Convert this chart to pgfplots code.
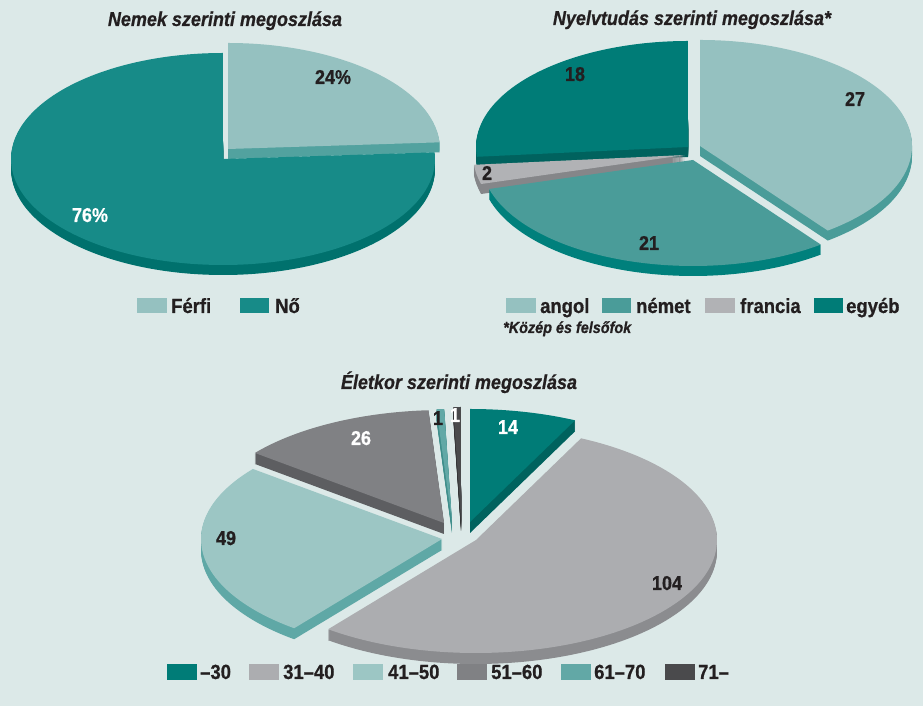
\documentclass[border=0pt]{standalone}
\usepackage{pgfplots}
\pgfplotsset{compat=1.18}
\usepackage{fontspec}
\setmainfont{Liberation Sans}[FakeStretch=0.9,BoldFeatures={FakeBold=0.7},BoldItalicFeatures={FakeBold=0.7}]

\definecolor{bg}{HTML}{DCE9E8}
\definecolor{txt}{HTML}{231F20}
\definecolor{lteal}{HTML}{95C1C0}
\definecolor{lteals}{HTML}{52A29F}
\definecolor{nteal}{HTML}{178B88}
\definecolor{nteals}{HTML}{00716D}
\definecolor{mteal}{HTML}{4A9C99}
\definecolor{mteals}{HTML}{00807C}
\definecolor{dteal}{HTML}{007C77}
\definecolor{dteals}{HTML}{00625E}
\definecolor{lgrey}{HTML}{ACADB0}
\definecolor{lgreys}{HTML}{8B8C8F}
\definecolor{fgrey}{HTML}{B1B2B5}
\definecolor{fgreys}{HTML}{858689}
\definecolor{age3}{HTML}{9CC6C4}
\definecolor{age3s}{HTML}{5FA8A6}
\definecolor{mgrey}{HTML}{808184}
\definecolor{mgreys}{HTML}{5D5E61}
\definecolor{age5}{HTML}{62A8A6}
\definecolor{age5s}{HTML}{3F8E8B}
\definecolor{dgrey}{HTML}{4A4A4C}
\definecolor{dgreys}{HTML}{333335}

% ---- data ----
% Nemek (percent)
\def\vFerfi{24}\def\vNo{76}
% Nyelvtudas
\def\vAngol{27}\def\vNemet{21}\def\vFrancia{2}\def\vEgyeb{18}
% Eletkor
\def\vA{14}\def\vB{104}\def\vC{49}\def\vD{26}\def\vE{1}\def\vF{1}

% cumulative angles (clockwise from 90 degrees)
\pgfmathsetmacro\gT{\vFerfi+\vNo}
\pgfmathsetmacro\gA{90-\vFerfi/\gT*360}
\pgfmathsetmacro\gB{\gA-\vNo/\gT*360}

\pgfmathsetmacro\lT{\vAngol+\vNemet+\vFrancia+\vEgyeb}
\pgfmathsetmacro\lA{90-\vAngol/\lT*360}
\pgfmathsetmacro\lB{\lA-\vNemet/\lT*360}
\pgfmathsetmacro\lC{\lB-\vFrancia/\lT*360}
\pgfmathsetmacro\lD{\lC-\vEgyeb/\lT*360}

\pgfmathsetmacro\aT{\vA+\vB+\vC+\vD+\vE+\vF}
\pgfmathsetmacro\aA{90-\vA/\aT*360}
\pgfmathsetmacro\aB{\aA-\vB/\aT*360}
\pgfmathsetmacro\aC{\aB-\vC/\aT*360}
\pgfmathsetmacro\aD{\aC-\vD/\aT*360}
\pgfmathsetmacro\aE{\aD-\vE/\aT*360}
\pgfmathsetmacro\aF{\aE-\vF/\aT*360}

% slice: cx, cy (image px, y down), rx, ry, depth, angle low, angle high, top colour, side colour
\newcommand{\slice}[9]{%
  \pgfplotsinvokeforeach{1,...,#5}{%
    \fill[#9] (axis cs:#1,{706-#2-##1}) -- ++(#6:#3pt and #4pt)
      arc[start angle=#6,end angle=#7,x radius=#3pt,y radius=#4pt] -- cycle;
  }%
  \fill[#8] (axis cs:#1,{706-#2}) -- ++(#6:#3pt and #4pt)
      arc[start angle=#6,end angle=#7,x radius=#3pt,y radius=#4pt] -- cycle;
}
% legend box: x1, x2, ytop, height, colour
\newcommand{\lgbox}[5]{%
  \fill[#5] (axis cs:#1,{706-#3}) rectangle (axis cs:#2,{706-#3-#4});
}

\begin{document}
\begin{tikzpicture}
\begin{axis}[width=923pt,height=706pt,scale only axis,
  xmin=0,xmax=923,ymin=0,ymax=706,hide axis,clip=false]
\fill[bg] (axis cs:0,0) rectangle (axis cs:923,706);

% ===== Nemek =====
\slice{228}{149}{212}{106}{10}{\gA}{90}{lteal}{lteals}
\slice{223}{159}{212}{106}{10}{\gB}{\gA}{nteal}{nteals}

% ===== Nyelvtudas =====
\slice{688}{147}{212}{106}{10}{\lD}{\lC}{dteal}{dteals}
\slice{700}{146}{212}{106}{10}{\lA}{90}{lteal}{mteal}
\slice{685}{155}{212}{106}{10}{\lC}{\lB}{fgrey}{fgreys}
\slice{693}{160}{212}{106}{10}{\lB}{\lA}{mteal}{mteals}

% ===== Eletkor =====
\slice{444}{523}{241}{113}{11}{\aD}{\aC}{mgrey}{mgreys}
\slice{452}{522}{241}{113}{11}{\aE}{\aD}{age5}{age5s}
\slice{461}{520}{241}{113}{11}{\aF}{\aE}{dgrey}{dgreys}
\slice{470}{522}{241}{113}{11}{\aA}{90}{dteal}{dteals}
\slice{442}{539}{241}{113}{11}{\aC}{\aB}{age3}{age3s}
\slice{476}{540}{241}{113}{11}{\aB}{\aA}{lgrey}{lgreys}

% ===== titles =====
\begin{scope}[every node/.style={font=\bfseries\itshape\fontsize{20}{24}\selectfont,text=txt,anchor=base,inner sep=0pt}]
\node at (axis cs:225,{706-26}) {Nemek szerinti megoszlása};
\node at (axis cs:692,{706-25}) {Nyelvtudás szerinti megoszlása*};
\node at (axis cs:459,{706-389}) {Életkor szerinti megoszlása};
\end{scope}

% ===== value labels =====
\begin{scope}[every node/.style={font=\bfseries\fontsize{20}{24}\selectfont,anchor=base,inner sep=0pt}]
\node[text=txt] at (axis cs:333,{706-84}) {24\%};
\node[text=white] at (axis cs:90,{706-222}) {76\%};
\node[text=txt] at (axis cs:855,{706-106}) {27};
\node[text=txt] at (axis cs:649,{706-250}) {21};
\node[text=txt] at (axis cs:487,{706-180}) {2};
\node[text=txt] at (axis cs:575,{706-81}) {18};
\node[text=white] at (axis cs:508,{706-434}) {14};
\node[text=txt] at (axis cs:667,{706-590}) {104};
\node[text=txt] at (axis cs:226,{706-545}) {49};
\node[text=white] at (axis cs:361,{706-445}) {26};
\node[text=txt] at (axis cs:438,{706-425}) {1};
\node[text=white] at (axis cs:455,{706-422}) {1};
\end{scope}

% ===== legends =====
\lgbox{137}{167}{298}{15}{lteal}
\lgbox{240}{269}{298}{15}{nteal}
\lgbox{506}{536}{298}{15}{lteal}
\lgbox{602}{631}{298}{15}{mteal}
\lgbox{705}{735}{298}{15}{fgrey}
\lgbox{814}{843}{298}{15}{dteal}
\lgbox{167}{197}{664}{16}{dteal}
\lgbox{249}{279}{664}{16}{lgrey}
\lgbox{353}{383}{664}{16}{age3}
\lgbox{457}{487}{664}{16}{mgrey}
\lgbox{561}{591}{664}{16}{age5}
\lgbox{665}{695}{664}{16}{dgrey}
\begin{scope}[every node/.style={font=\bfseries\fontsize{20.5}{24}\selectfont,text=txt,anchor=base west,inner sep=0pt}]
\node at (axis cs:171,{706-313}) {Férfi};
\node at (axis cs:275,{706-313}) {Nő};
\node at (axis cs:540,{706-313}) {angol};
\node at (axis cs:636,{706-313}) {német};
\node at (axis cs:740,{706-313}) {francia};
\node at (axis cs:846,{706-313}) {egyéb};
\node at (axis cs:200,{706-679}) {–30};
\node at (axis cs:283,{706-679}) {31–40};
\node at (axis cs:388,{706-679}) {41–50};
\node at (axis cs:491,{706-679}) {51–60};
\node at (axis cs:594,{706-679}) {61–70};
\node at (axis cs:698,{706-679}) {71–};
\end{scope}
\node[font=\bfseries\itshape\fontsize{16}{19}\selectfont,text=txt,anchor=base west,inner sep=0pt] at (axis cs:503,{706-333}) {*Közép és felsőfok};
\end{axis}
\pgfresetboundingbox
\path[use as bounding box] (0,0) rectangle (923pt,706pt);
\end{tikzpicture}
\end{document}
